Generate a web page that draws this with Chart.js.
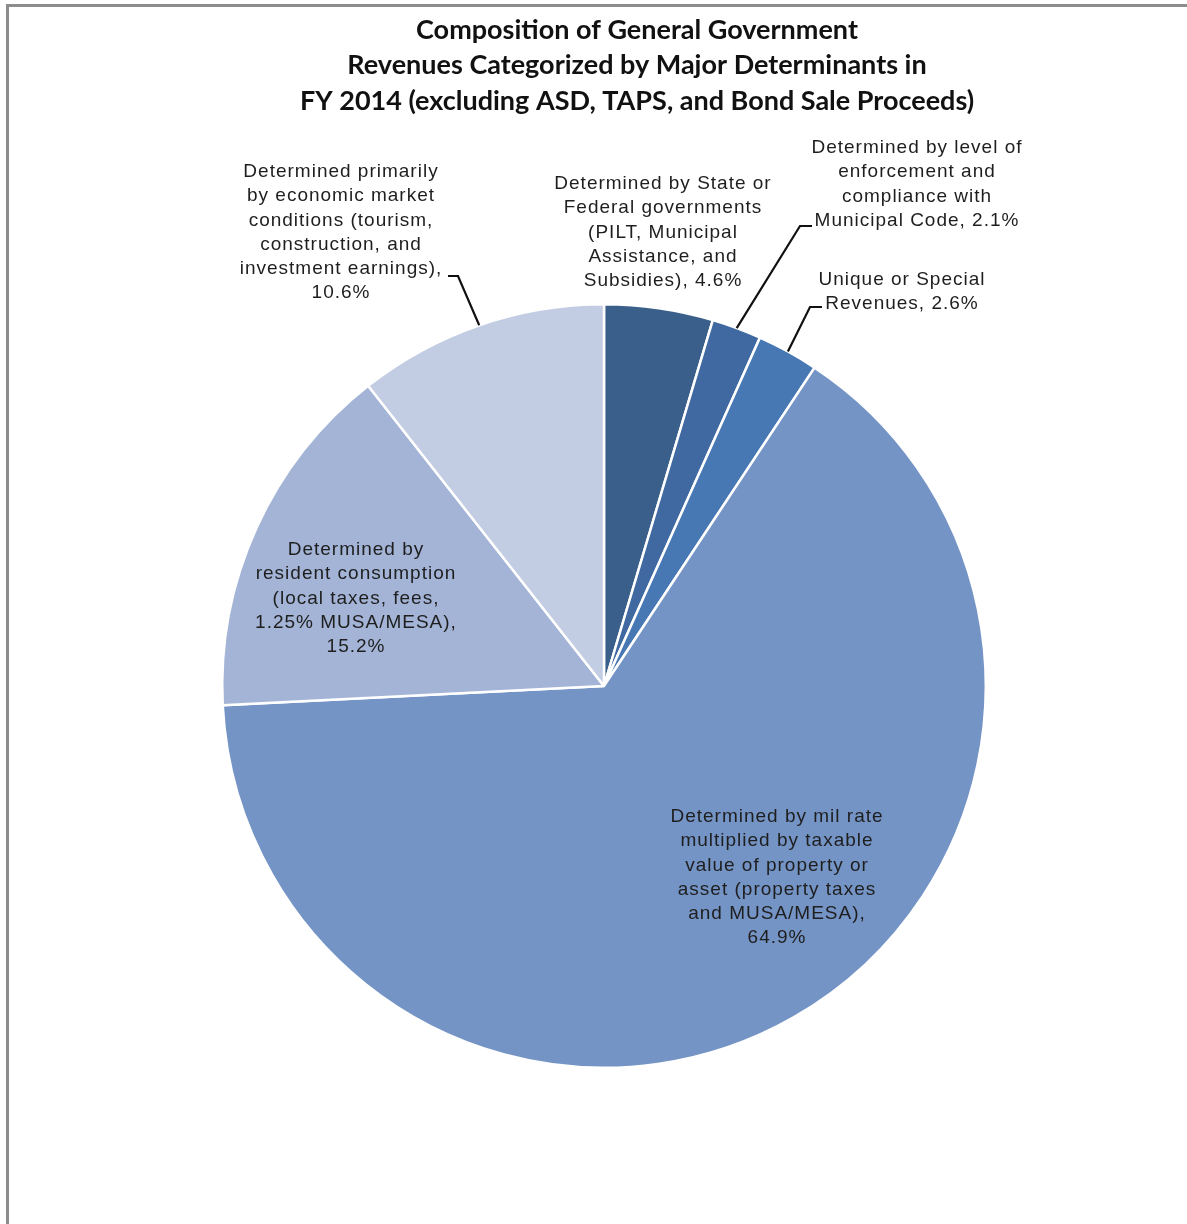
<!DOCTYPE html>
<html>
<head>
<meta charset="utf-8">
<title>Composition of General Government Revenues FY 2014</title>
<script src="https://cdn.jsdelivr.net/npm/chart.js@4.4.1/dist/chart.umd.min.js"></script>
<style>
    html, body { margin: 0; padding: 0; background: #fff; }
    #wrap { position: relative; width: 1187px; height: 1224px; overflow: hidden; }
    #frame {
        position: absolute; left: 6px; top: 4px; right: -10px; bottom: -10px;
        border-top: 3px solid #8c8c8c; border-left: 3px solid #8c8c8c;
    }
    #pie { position: absolute; left: 0; top: 0; }
</style>
</head>
<body>
<div id="wrap">
    <div id="frame"></div>
    <canvas id="pie" width="1187" height="1224"></canvas>
</div>
<script>
const titleLines = [
    'Composition of General Government',
    'Revenues Categorized by Major Determinants in',
    'FY 2014 (excluding ASD, TAPS, and Bond Sale Proceeds)'
];

// slices, clockwise from 12 o'clock
const categories = [
    ['Determined by State or', 'Federal governments', '(PILT, Municipal', 'Assistance, and', 'Subsidies), 4.6%'],
    ['Determined by level of', 'enforcement and', 'compliance with', 'Municipal Code, 2.1%'],
    ['Unique or Special', 'Revenues, 2.6%'],
    ['Determined by mil rate', 'multiplied by taxable', 'value of property or', 'asset (property taxes', 'and MUSA/MESA),', '64.9%'],
    ['Determined by', 'resident consumption', '(local taxes, fees,', '1.25% MUSA/MESA),', '15.2%'],
    ['Determined primarily', 'by economic market', 'conditions (tourism,', 'construction, and', 'investment earnings),', '10.6%']
];
const shares = [4.6, 2.1, 2.6, 64.9, 15.2, 10.6];
const sliceColors = ['#3a5f8b', '#3f69a0', '#4878b4', '#7494c6', '#a3b4d6', '#c2cde3'];

// where each label block sits, relative to the pie centre (first line, centre x)
// leader: null, or the elbow point + end of the short horizontal tick
const labelLayout = [
    { dx: 59,   dy: -502, leader: null },
    { dx: 313,  dy: -538, leader: { elbow: [196, -460], tick: [208, -460] } },
    { dx: 298,  dy: -406, leader: { elbow: [206, -379], tick: [218, -379] } },
    { dx: 173,  dy: 131,  leader: null },
    { dx: -248, dy: -136, leader: null },
    { dx: -263, dy: -514, leader: { elbow: [-146, -410], tick: [-156, -410] } }
];

const labelsPlugin = {
    id: 'sliceLabels',
    afterDatasetsDraw(chart) {
        const ctx = chart.ctx;
        const arcs = chart.getDatasetMeta(0).data;
        const lineH = 24.2;
        ctx.save();
        ctx.font = '19px "Liberation Sans", Arial, sans-serif';
        ctx.letterSpacing = '1px';
        ctx.fillStyle = '#1e1e1e';
        ctx.textAlign = 'center';
        ctx.textBaseline = 'middle';
        arcs.forEach((arc, i) => {
            const p = arc.getProps(['x', 'y', 'startAngle', 'endAngle', 'outerRadius'], true);
            const lay = labelLayout[i];
            const tx = p.x + lay.dx;
            const ty = p.y + lay.dy;
            categories[i].forEach((line, k) => {
                ctx.fillText(line, tx, ty + k * lineH);
            });
            if (lay.leader) {
                const mid = (p.startAngle + p.endAngle) / 2;
                const ax = p.x + Math.cos(mid) * p.outerRadius;
                const ay = p.y + Math.sin(mid) * p.outerRadius;
                ctx.beginPath();
                ctx.strokeStyle = '#111';
                ctx.lineWidth = 2.2;
                ctx.moveTo(ax, ay);
                ctx.lineTo(p.x + lay.leader.elbow[0], p.y + lay.leader.elbow[1]);
                ctx.lineTo(p.x + lay.leader.tick[0], p.y + lay.leader.tick[1]);
                ctx.stroke();
            }
        });
        ctx.restore();
    }
};

const titlePlugin = {
    id: 'bigTitle',
    afterDraw(chart) {
        const ctx = chart.ctx;
        ctx.save();
        ctx.font = 'bold 27px Lato, "Open Sans", sans-serif';
        ctx.fillStyle = '#111';
        ctx.textAlign = 'center';
        ctx.textBaseline = 'middle';
        titleLines.forEach((t, i) => ctx.fillText(t, 637, 30 + i * 35.5));
        ctx.restore();
    }
};

document.addEventListener('DOMContentLoaded', () => {
    const ctx = document.getElementById('pie').getContext('2d');
    new Chart(ctx, {
        type: 'pie',
        data: {
            labels: categories.map(c => c.join(' ')),
            datasets: [{
                data: shares,
                backgroundColor: sliceColors,
                borderColor: '#ffffff',
                borderWidth: 2.5
            }]
        },
        options: {
            responsive: false,
            animation: false,
            layout: { padding: { left: 221, right: 200, top: 303, bottom: 155 } },
            plugins: {
                legend: { display: false },
                tooltip: { enabled: false }
            }
        },
        plugins: [labelsPlugin, titlePlugin]
    });
});
</script>
</body>
</html>
